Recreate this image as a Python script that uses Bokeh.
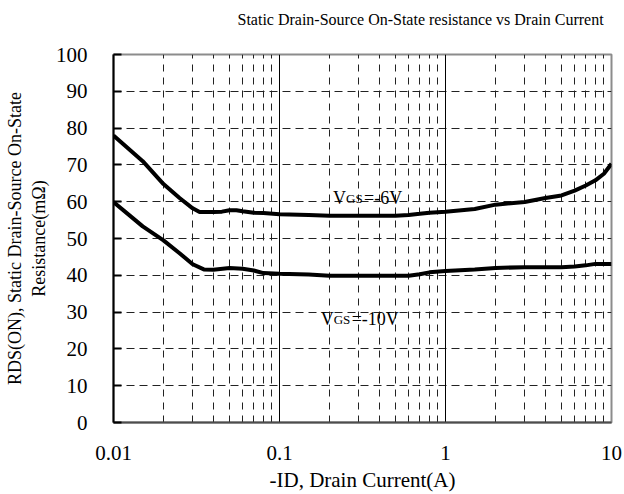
from bokeh.plotting import figure
from bokeh.models import FixedTicker, Grid, Label, Range1d, Title
from bokeh.embed import file_html
from bokeh.resources import INLINE

# ---- data ----
id_6v = [0.01, 0.015, 0.02, 0.025, 0.03, 0.033, 0.04, 0.045, 0.05, 0.055, 0.06, 0.07, 0.08,
         0.1, 0.15, 0.2, 0.3, 0.5, 0.6, 0.7, 0.8, 1.0, 1.5, 2, 3, 4, 5, 6, 7, 8, 9, 10]
r_6v = [78.0, 71.0, 64.8, 61.0, 58.2, 57.2, 57.2, 57.3, 57.7, 57.7, 57.4, 57.0, 56.9,
        56.6, 56.4, 56.2, 56.2, 56.2, 56.4, 56.7, 57.0, 57.3, 58.0, 59.2, 59.9, 61.0, 61.7,
        63.0, 64.4, 65.8, 67.6, 70.3]

id_10v = [0.01, 0.015, 0.02, 0.025, 0.03, 0.035, 0.04, 0.05, 0.06, 0.07, 0.08, 0.1, 0.15,
          0.2, 0.3, 0.5, 0.6, 0.7, 0.8, 1.0, 1.5, 2, 3, 5, 6, 7, 8, 10]
r_10v = [59.9, 53.3, 49.5, 46.0, 43.0, 41.6, 41.5, 42.0, 41.8, 41.3, 40.6, 40.4, 40.2,
         39.9, 39.9, 39.9, 39.9, 40.3, 40.8, 41.2, 41.6, 42.0, 42.2, 42.2, 42.4, 42.7, 43.1, 43.1]

x_ticks = [0.01, 0.1, 1, 10]
x_tick_labels = ["0.01", "0.1", "1", "10"]
y_ticks = list(range(0, 101, 10))
decades = [0.01, 0.1, 1]

FONT = "Liberation Serif"

p = figure(width=624, height=494, x_axis_type="log", title=None,
           x_range=Range1d(0.01, 10), y_range=Range1d(0, 100),
           output_backend="svg", toolbar_location=None,
           min_border_left=113, min_border_right=13, min_border_top=54, min_border_bottom=72)

p.background_fill_color = "white"
p.border_fill_color = "white"
p.outline_line_color = "#8c8c8c"
p.outline_line_width = 2

# title (a blank spacer title keeps it clear of the frame)
p.add_layout(Title(text=" ", text_font_size="9px"), "above")
p.add_layout(Title(text="Static Drain-Source On-State resistance vs Drain Current",
                   text_font=FONT, text_font_size="16px", text_font_style="normal",
                   text_color="black", align="left", offset=124), "above")

# axes
p.xaxis.ticker = FixedTicker(ticks=x_ticks)
p.xaxis.major_label_overrides = {t: l for t, l in zip(x_ticks, x_tick_labels)}
p.yaxis.ticker = FixedTicker(ticks=y_ticks)
for ax in (p.xaxis, p.yaxis):
    ax.major_label_text_font = FONT
    ax.major_label_text_font_size = "21px"
    ax.major_label_text_color = "black"
    ax.axis_label_text_font = FONT
    ax.axis_label_text_font_style = "normal"
    ax.axis_label_text_color = "black"
    ax.minor_tick_line_color = None
    ax.major_tick_out = 0
    ax.axis_line_width = 2

p.xaxis.axis_line_color = "#4d4d4d"
p.xaxis.major_tick_in = 0
p.xaxis.major_label_standoff = 23
p.xaxis.axis_label = "-ID, Drain Current(A)"
p.xaxis.axis_label_text_font_size = "21px"
p.xaxis.axis_label_standoff = 5

p.yaxis.axis_line_color = "black"
p.yaxis.major_tick_in = 8
p.yaxis.major_tick_line_width = 2
p.yaxis.major_label_standoff = 26
p.yaxis.axis_label = "RDS(ON), Static Drain-Source On-State\nResistance(mΩ)"
p.yaxis.axis_label_text_font_size = "18px"
p.yaxis.axis_label_standoff = 4

# grids
p.ygrid.ticker = FixedTicker(ticks=y_ticks[1:-1])
p.ygrid.grid_line_color = "#222222"
p.ygrid.grid_line_dash = "8 5"
p.ygrid.grid_line_width = 1

minor_x = [d * m for d in decades for m in range(2, 10)]
p.xgrid.ticker = FixedTicker(ticks=minor_x)
p.xgrid.grid_line_color = "#222222"
p.xgrid.grid_line_dash = "7 6"
p.xgrid.grid_line_width = 1

major_grid = Grid(dimension=0, ticker=FixedTicker(ticks=x_ticks[1:-1]),
                  grid_line_color="black", grid_line_width=1)
p.add_layout(major_grid)

# curves
p.line(id_6v, r_6v, line_color="black", line_width=4)
p.line(id_10v, r_10v, line_color="black", line_width=4)

# curve labels with subscripts
def vgs_label(x, y, tail):
    p.add_layout(Label(x=x, y=y, text="V", text_font=FONT, text_font_size="18px",
                       text_color="black", text_baseline="alphabetic"))
    p.add_layout(Label(x=x, y=y, x_offset=13, text="GS", text_font=FONT, text_font_size="13px",
                       text_color="black", text_baseline="alphabetic"))
    p.add_layout(Label(x=x, y=y, x_offset=31, text=tail, text_font=FONT, text_font_size="18px",
                       text_color="black", text_baseline="alphabetic"))

vgs_label(0.21, 61.0, "=-6V")
vgs_label(0.177, 28.0, "=-10V")

open("out.html", "w").write(file_html(p, INLINE))
